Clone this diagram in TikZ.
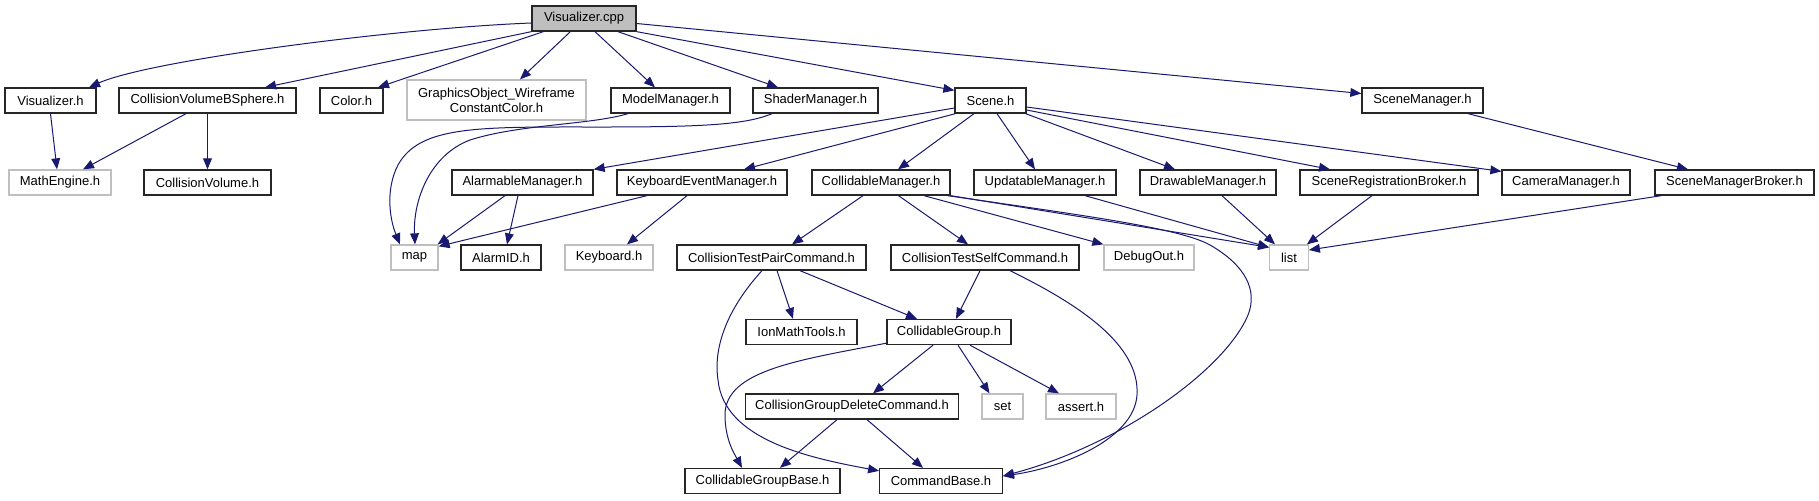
\documentclass[tikz,border=0pt]{standalone}
\usepackage{fontspec}
\setmainfont{Liberation Sans}
\usetikzlibrary{arrows.meta,calc}
\definecolor{navyc}{HTML}{191970}
\definecolor{lgray}{HTML}{BFBFBF}
\definecolor{bgray}{HTML}{BFBFBF}
\tikzset{
  nd/.style={draw=black!85, line width=0.65pt, rectangle, inner sep=0pt, minimum height=12.5pt, font=\fontsize{6.5}{7.6}\selectfont, text=black},
  gnd/.style={nd, draw=lgray},
  dep/.style={draw=navyc, line width=0.5pt, -{Triangle[length=5.5pt,width=4.4pt]}},
}
\begin{document}
\begin{tikzpicture}[x=0.5pt,y=-0.5pt]
\useasboundingbox[fill=white] (0,0) rectangle (1819,500);
% row 0
\node[nd, fill=bgray, minimum width=52pt] (vcpp) at (584,18.5) {Visualizer.cpp};
% row 1
\node[nd, minimum width=45.5pt] (vh) at (50.5,100.5) {Visualizer.h};
\node[nd, minimum width=88.5pt] (cvbs) at (207.5,100.5) {CollisionVolumeBSphere.h};
\node[nd, minimum width=31.5pt] (color) at (351.5,100.5) {Color.h};
\node[gnd, minimum width=89.5pt, minimum height=20pt, align=center] (gow) at (496.5,100) {GraphicsObject\_Wireframe\\ConstantColor.h};
\node[nd, minimum width=59.5pt] (mm) at (670.5,100.5) {ModelManager.h};
\node[nd, minimum width=62.5pt] (sm) at (815.5,100.5) {ShaderManager.h};
\node[nd, minimum width=35.5pt] (scene) at (990.5,100.5) {Scene.h};
\node[nd, minimum width=60.5pt] (scm) at (1422.5,100.5) {SceneManager.h};
% row 2
\node[gnd, minimum width=51pt] (me) at (60,182.5) {MathEngine.h};
\node[nd, minimum width=63.5pt] (cv) at (207.5,182.5) {CollisionVolume.h};
\node[nd, minimum width=70.5pt] (am) at (522.5,182.5) {AlarmableManager.h};
\node[nd, minimum width=85pt] (kem) at (702,182.5) {KeyboardEventManager.h};
\node[nd, minimum width=69pt] (cm) at (881,182.5) {CollidableManager.h};
\node[nd, minimum width=71pt] (um) at (1045,182.5) {UpdatableManager.h};
\node[nd, minimum width=68pt] (dm) at (1208,182.5) {DrawableManager.h};
\node[nd, minimum width=89pt] (srb) at (1389,182.5) {SceneRegistrationBroker.h};
\node[nd, minimum width=64pt] (cam) at (1566,182.5) {CameraManager.h};
\node[nd, minimum width=79.5pt] (smb) at (1734.5,182.5) {SceneManagerBroker.h};
% row 3
\node[gnd, minimum width=23.5pt] (map) at (414.5,257.5) {map};
\node[nd, minimum width=40pt] (aid) at (501,257.5) {AlarmID.h};
\node[gnd, minimum width=44pt] (kb) at (609,257.5) {Keyboard.h};
\node[nd, minimum width=94.5pt] (ctpc) at (771.5,257.5) {CollisionTestPairCommand.h};
\node[nd, minimum width=94pt] (ctsc) at (985,257.5) {CollisionTestSelfCommand.h};
\node[gnd, minimum width=45pt] (dbg) at (1149,257.5) {DebugOut.h};
\node[gnd, minimum width=19.25pt] (list) at (1289,257.5) {list};
% row 4
\node[nd, minimum width=55.5pt] (imt) at (801.5,332) {IonMathTools.h};
\node[nd, minimum width=62pt] (cg) at (949,332) {CollidableGroup.h};
% row 5
\node[nd, minimum width=106.25pt] (cgdc) at (852,406.5) {CollisionGroupDeleteCommand.h};
\node[gnd, minimum width=20.5pt] (set) at (1002.5,406.5) {set};
\node[gnd, minimum width=35pt] (assert) at (1081,406.5) {assert.h};
% row 6
\node[nd, minimum width=77.5pt] (cgb) at (762.5,481) {CollidableGroupBase.h};
\node[nd, minimum width=61.25pt] (cb) at (941,481) {CommandBase.h};

% edges from Visualizer.cpp
\draw[dep] ($(vcpp.west)+(0,4.5)$) .. controls (400,28) and (150,60) .. ($(vh.north)+(38.5,0)$);
\draw[dep] (vcpp.south west) -- ($(cvbs.north)+(57.5,0)$);
\draw[dep] ($(vcpp.south west)+(12,0)$) -- ($(color.north)+(26.5,0)$);
\draw[dep] ($(vcpp.south west)+(39,0)$) -- ($(gow.north)+(23.5,0)$);
\draw[dep] ($(vcpp.south)+(11,0)$) -- ($(mm.north)+(-15.5,0)$);
\draw[dep] ($(vcpp.south)+(34,0)$) -- ($(sm.north)+(-37.5,0)$);
\draw[dep] (vcpp.south east) -- ($(scene.north west)+(0,3)$);
\draw[dep] ($(vcpp.east)+(0,5)$) -- ($(scm.west)+(0,-7)$);
% row 1 sources
\draw[dep] (vh.south) -- ($(me.north)+(-3,0)$);
\draw[dep] ($(cvbs.south)+(-21.5,0)$) -- ($(me.north)+(23,0)$);
\draw[dep] (cvbs.south) -- (cv.north);
\draw[dep] ($(mm.south)+(-42.5,0)$) .. controls (590,125) and (520,124) .. (470,140) .. controls (430,155) and (413,200) .. ($(map.north)+(0.5,0)$);
\draw[dep] ($(sm.south)+(-43.5,0)$) .. controls (745,125) and (700,127) .. (600,127) .. controls (480,127) and (420,125) .. (398,165) .. controls (385,190) and (390,220) .. ($(map.north)+(-14.5,0)$);
\draw[dep] ($(scene.west)+(0,7.5)$) -- (am.north east);
\draw[dep] ($(scene.south west)+(1,0)$) -- ($(kem.north)+(42,0)$);
\draw[dep] ($(scene.south)+(-16.5,0)$) -- ($(cm.north)+(17,0)$);
\draw[dep] ($(scene.south)+(6.5,0)$) -- ($(um.north)+(-10,0)$);
\draw[dep] ($(scene.south east)+(-1,0)$) -- ($(dm.north)+(-33,0)$);
\draw[dep] ($(scene.east)+(0,9.5)$) -- ($(srb.north)+(-59,0)$);
\draw[dep] ($(scene.east)+(0,6.5)$) -- ($(cam.north west)+(0,2)$);
\draw[dep] ($(scm.south)+(45.5,0)$) -- ($(smb.north)+(-46.5,0)$);
% row 2 sources
\draw[dep] ($(am.south)+(-17.5,0)$) -- ($(map.north east)+(-1,0)$);
\draw[dep] ($(am.south)+(-4.5,0)$) -- ($(aid.north)+(6,0)$);
\draw[dep] ($(kem.south)+(-55,0)$) -- ($(map.north east)+(0,2)$);
\draw[dep] ($(kem.south)+(-15,0)$) -- ($(kb.north)+(18,0)$);
\draw[dep] ($(cm.south)+(-18,0)$) -- ($(ctpc.north)+(20.5,0)$);
\draw[dep] ($(cm.south)+(17.5,0)$) -- ($(ctsc.north)+(-17,0)$);
\draw[dep] ($(cm.south)+(43,0)$) -- (dbg.north west);
\draw[dep] (cm.south east) -- ($(list.north west)+(0,3)$);
\draw[dep] ($(cm.south east)+(-3,0)$) .. controls (1080,215) and (1180,228) .. (1210,245) .. controls (1245,265) and (1258,290) .. (1248,315) .. controls (1225,370) and (1120,445) .. ($(cb.east)+(0,-5)$);
\draw[dep] ($(um.south)+(40,0)$) -- ($(list.north west)+(0,3)$);
\draw[dep] ($(dm.south)+(14,0)$) -- ($(list.north)+(-14,0)$);
\draw[dep] ($(srb.south)+(-17,0)$) -- ($(list.north east)+(-2,0)$);
\draw[dep] ($(smb.south west)+(7,0)$) -- ($(list.east)+(0,-7.5)$);
% row 3 sources
\draw[dep] ($(ctpc.south)+(5.5,0)$) -- ($(imt.north)+(-8.5,0)$);
\draw[dep] ($(ctpc.south)+(28.5,0)$) -- ($(cg.north)+(-32,0)$);
\draw[dep] ($(ctpc.south)+(-9.5,0)$) .. controls (735,300) and (712,340) .. (718,380) .. controls (724,440) and (810,458) .. ($(cb.north west)+(0,3)$);
\draw[dep] ($(ctsc.south)+(-5,0)$) -- ($(cg.north)+(7,0)$);
\draw[dep] ($(ctsc.south)+(25,0)$) .. controls (1080,305) and (1140,345) .. (1137,395) .. controls (1134,440) and (1060,468) .. ($(cb.east)+(0,-5)$);
% row 4 sources
\draw[dep] ($(cg.south west)+(0,-2)$) .. controls (800,360) and (725,370) .. (725,415) .. controls (725,440) and (735,455) .. ($(cgb.north)+(-20.5,0)$);
\draw[dep] ($(cg.south)+(-16,0)$) -- ($(cgdc.north)+(21,0)$);
\draw[dep] ($(cg.south)+(9,0)$) -- ($(set.north)+(-13,0)$);
\draw[dep] ($(cg.south)+(21,0)$) -- ($(assert.north)+(-22,0)$);
% row 5 sources
\draw[dep] ($(cgdc.south)+(-15,0)$) -- ($(cgb.north)+(17.5,0)$);
\draw[dep] ($(cgdc.south)+(15,0)$) -- ($(cb.north)+(-18,0)$);
\end{tikzpicture}
\end{document}
